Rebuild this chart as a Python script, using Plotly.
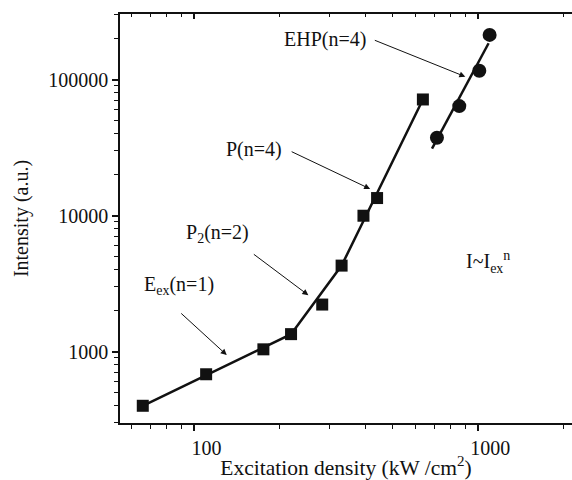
import math
import plotly.graph_objects as go

# Data
sq_x = [65.8, 110, 175, 219, 282, 330, 394, 440, 638]
sq_y = [400, 682, 1040, 1345, 2219, 4290, 9980, 13460, 71400]
sq_fit_x = [65.8, 219, 330, 638]
sq_fit_y = [400, 1345, 4290, 71400]
ci_x = [715, 857, 1008, 1096]
ci_y = [37400, 63800, 116000, 213000]
ci_fit_x = [687, 1087]
ci_fit_y = [31100, 185000]

x_range = [1.738, 3.330]
y_range = [2.4755, 5.482]

FONT = "Liberation Serif"
INK = "#111111"

fig = go.Figure()
fig.add_trace(go.Scatter(x=sq_fit_x, y=sq_fit_y, mode="lines",
                         line=dict(color=INK, width=2.5), showlegend=False))
fig.add_trace(go.Scatter(x=sq_x, y=sq_y, mode="markers",
                         marker=dict(symbol="square", size=12, color=INK), showlegend=False))
fig.add_trace(go.Scatter(x=ci_fit_x, y=ci_fit_y, mode="lines",
                         line=dict(color=INK, width=2.5), showlegend=False))
fig.add_trace(go.Scatter(x=ci_x, y=ci_y, mode="markers",
                         marker=dict(symbol="circle", size=14, color=INK), showlegend=False))
# invisible trace to activate top axis
fig.add_trace(go.Scatter(x=[100], y=[1000], xaxis="x2", mode="markers",
                         marker=dict(opacity=0), showlegend=False, hoverinfo="skip"))

arrows = [
    # head x, head y, tail offset ax, ay
    (900, 105000, -92, -37),
    (416, 15700, -80, -38),
    (252, 2600, -56, -42),
    (130, 944, -47, -43),
]
for hx, hy, ax, ay in arrows:
    fig.add_annotation(x=math.log10(hx), y=math.log10(hy), text="", showarrow=True,
                       ax=ax, ay=ay, arrowhead=2, arrowsize=1.2, arrowwidth=1,
                       arrowcolor=INK)

labels = [
    (289, 196000, "EHP(n=4)"),
    (162, 30700, "P(n=4)"),
    (121, 7330, "P<sub>2</sub>(n=2)"),
    (88.3, 3055, "E<sub>ex</sub>(n=1)"),
    (1080, 4575, "I~I<sub>ex</sub><sup>n</sup>"),
]
for lx, ly, t in labels:
    fig.add_annotation(x=math.log10(lx), y=math.log10(ly), text=t, showarrow=False,
                       font=dict(family=FONT, size=20, color=INK))

x_minor = [60, 70, 80, 90, 200, 300, 400, 500, 600, 700, 800, 900, 2000]
y_minor = [m * d for d in (100, 1000, 10000, 100000) for m in range(2, 10)]

fig.update_layout(
    width=572, height=480,
    margin=dict(l=120, r=0, t=14, b=55),
    paper_bgcolor="white", plot_bgcolor="white",
    font=dict(family=FONT, size=20, color=INK),
    xaxis=dict(type="log", range=x_range, showgrid=False, zeroline=False,
               showline=True, linecolor=INK, linewidth=1.5,
               ticks="outside", ticklen=6, tickwidth=1.5, tickcolor=INK,
               tickvals=[100, 1000], ticktext=["100", "1000"], ticklabelshift=12,
               minor=dict(ticks="outside", ticklen=4, tickwidth=1.2, tickcolor=INK,
                          tickvals=x_minor, showgrid=False),
               title=dict(text="Excitation density (kW /cm<sup>2</sup>)", standoff=6,
                          font=dict(family=FONT, size=21.5))),
    xaxis2=dict(type="log", range=x_range, overlaying="x", side="top",
                showgrid=False, zeroline=False, showline=True, linecolor=INK, linewidth=1.5,
                ticks="inside", ticklen=5, tickwidth=1.5, tickcolor=INK,
                tickvals=[100, 1000], showticklabels=False,
                minor=dict(ticks="inside", ticklen=3, tickwidth=1.2, tickcolor=INK,
                           tickvals=x_minor, showgrid=False)),
    yaxis=dict(type="log", range=y_range, showgrid=False, zeroline=False,
               showline=True, linecolor=INK, linewidth=1.5,
               ticks="outside", ticklen=6, tickwidth=1.5, tickcolor=INK,
               tickvals=[1000, 10000, 100000], ticktext=["1000", "10000", "100000"],
               minor=dict(ticks="outside", ticklen=4, tickwidth=1.2, tickcolor=INK,
                          tickvals=y_minor, showgrid=False),
               title=dict(text="Intensity (a.u.)", standoff=14,
                          font=dict(family=FONT, size=20))),
)

fig.write_html("out.html")
